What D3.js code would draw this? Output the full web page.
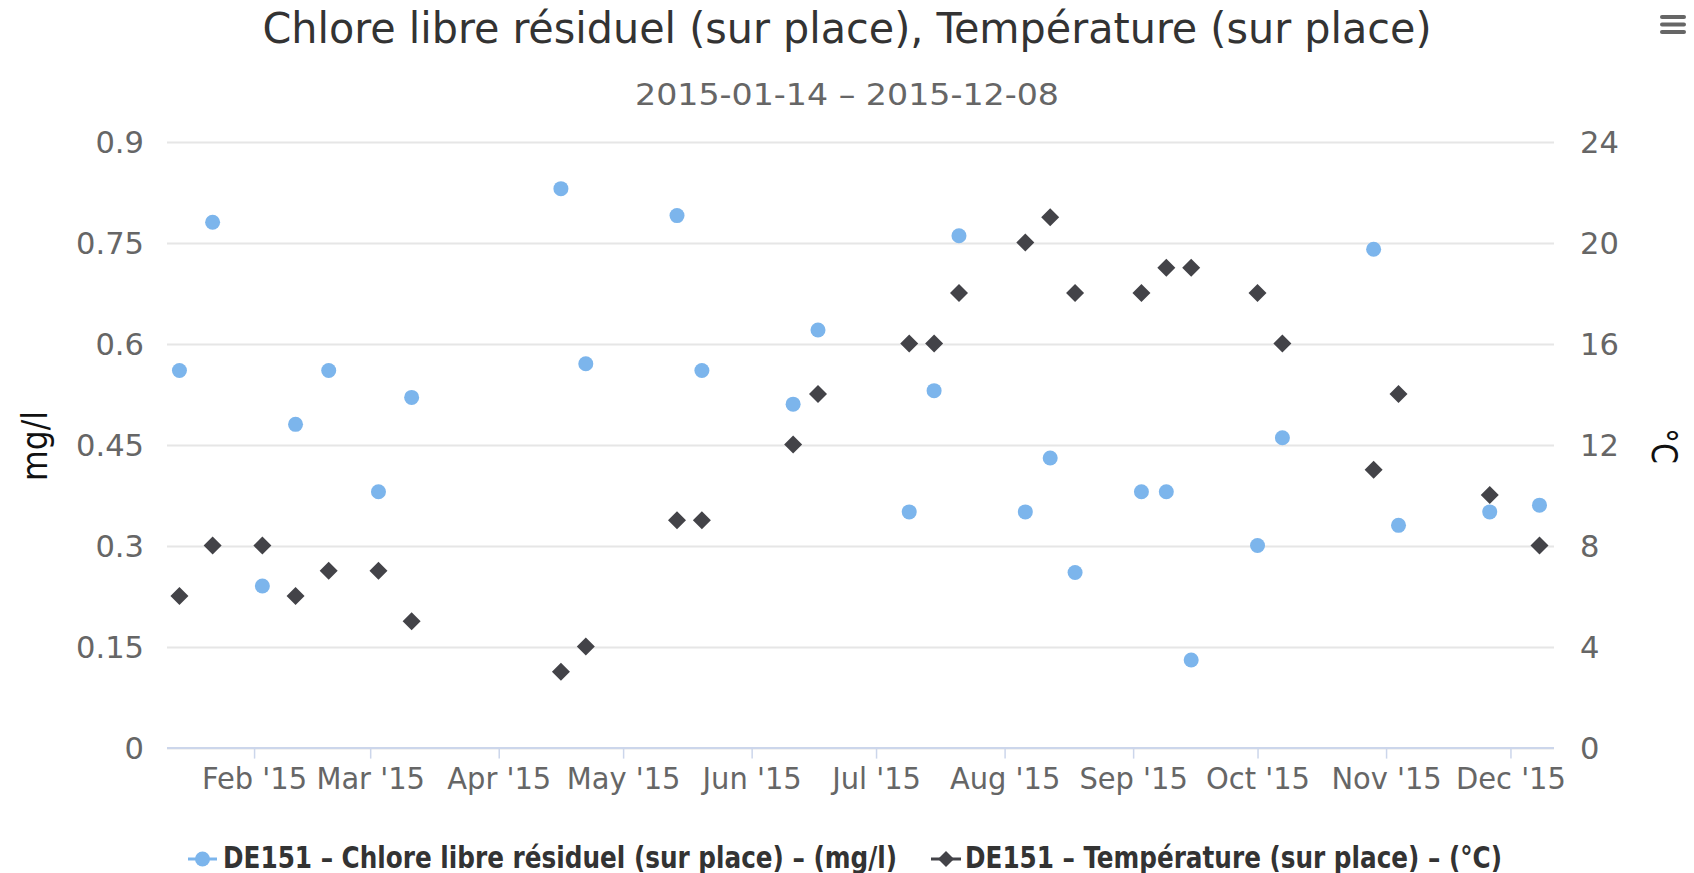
<!DOCTYPE html>
<html><head><meta charset="utf-8">
<script src="https://cdn.jsdelivr.net/npm/d3@7"></script>
<style>body{margin:0;background:#fff;overflow:hidden} svg{display:block}</style>
</head><body>
<svg id="c" width="1694" height="873"></svg>
<script>
// ---- data ----
const dates = ["2015-01-14","2015-01-22","2015-02-03","2015-02-11","2015-02-19","2015-03-03","2015-03-11",
  "2015-04-16","2015-04-22","2015-05-14","2015-05-20","2015-06-11","2015-06-17","2015-07-09","2015-07-15",
  "2015-07-21","2015-08-06","2015-08-12","2015-08-18","2015-09-03","2015-09-09","2015-09-15","2015-10-01",
  "2015-10-07","2015-10-29","2015-11-04","2015-11-26","2015-12-08"];
const chlore = [0.56,0.78,0.24,0.48,0.56,0.38,0.52,0.83,0.57,0.79,0.56,0.51,0.62,0.35,0.53,0.76,0.35,0.43,0.26,
  0.38,0.38,0.13,0.30,0.46,0.74,0.33,0.35,0.36];
const temperature = [6,8,8,6,7,7,5,3,4,9,9,12,14,16,16,18,20,21,18,18,19,19,18,16,11,14,10,8];
const leftTicks = [0,0.15,0.3,0.45,0.6,0.75,0.9];
const leftTickLabels = ["0","0.15","0.3","0.45","0.6","0.75","0.9"];
const rightTicks = [0,4,8,12,16,20,24];
const monthTicks = ["2015-02-01","2015-03-01","2015-04-01","2015-05-01","2015-06-01","2015-07-01",
  "2015-08-01","2015-09-01","2015-10-01","2015-11-01","2015-12-01"];
const monthLabels = ["Feb '15","Mar '15","Apr '15","May '15","Jun '15","Jul '15","Aug '15","Sep '15","Oct '15","Nov '15","Dec '15"];
const xDomain = ["2015-01-11T00:00","2015-12-11T12:00"];
const titleText = "Chlore libre résiduel (sur place), Température (sur place)";
const subtitleText = "2015-01-14 – 2015-12-08";
const seriesNames = ["DE151 – Chlore libre résiduel (sur place) – (mg/l)","DE151 – Température (sur place) – (°C)"];
const leftAxisTitle = "mg/l", rightAxisTitle = "°C";

// ---- layout ----
const FONT = '"Liberation Sans Narrow","DejaVu Sans Condensed","DejaVu Sans",sans-serif';
const L = 167, R = 1554, T = 141.5, B = 747.6;
const parse = d3.timeParse("%Y-%m-%d"), parseT = d3.timeParse("%Y-%m-%dT%H:%M");
const svg = d3.select("#c").style("font-family", FONT).style("font-stretch","condensed");

const x = d3.scaleTime().domain(xDomain.map(parseT)).range([L, R]);
const yL = d3.scaleLinear().domain([0, 0.9]).range([B, T]);
const yR = d3.scaleLinear().domain([0, 24]).range([B, T]);

function fit(sel, w) { sel.attr("textLength", w).attr("lengthAdjust", "spacingAndGlyphs"); }
function squeeze(sel, k) { sel.each(function(){ const n=this.getComputedTextLength(); d3.select(this).attr("textLength", n*k).attr("lengthAdjust","spacingAndGlyphs"); }); }

// gridlines
svg.append("g").selectAll("line").data(leftTicks).join("line")
  .attr("x1", L).attr("x2", R).attr("y1", d => Math.round(yL(d)) + 0.5).attr("y2", d => Math.round(yL(d)) + 0.5)
  .attr("stroke", "#e6e6e6").attr("stroke-width", 2);

// x axis
const xAxis = d3.axisBottom(x).tickValues(monthTicks.map(parse)).tickSize(11)
  .tickFormat((d, i) => monthLabels[i]);
const gx = svg.append("g").attr("transform", `translate(0,${B})`).call(xAxis);
gx.select(".domain").attr("stroke", "#ccd6eb").attr("stroke-width", 2).attr("d", `M${L},0.5H${R}`);
gx.selectAll(".tick line").attr("stroke", "#ccd6eb").attr("stroke-width", 1.5);
gx.selectAll(".tick text").attr("fill", "#666").attr("font-size", 31).attr("dy", 0).attr("y", 41)
  .style("font-family", FONT);

// left axis
const gyl = svg.append("g").attr("transform", `translate(${L},0)`)
  .call(d3.axisLeft(yL).tickValues(leftTicks).tickSize(0).tickPadding(23).tickFormat((d,i)=>leftTickLabels[i]));
gyl.select(".domain").remove();
gyl.selectAll(".tick text").attr("fill", "#666").attr("font-size", 31).attr("dy", "0.36em").style("font-family", FONT);

// right axis
const gyr = svg.append("g").attr("transform", `translate(${R},0)`)
  .call(d3.axisRight(yR).tickValues(rightTicks).tickSize(0).tickPadding(26));
gyr.select(".domain").remove();
gyr.selectAll(".tick text").attr("fill", "#666").attr("font-size", 31).attr("dy", "0.36em").style("font-family", FONT);

// axis titles
const at1 = svg.append("text").attr("transform", "translate(47,446) rotate(-90)").attr("text-anchor", "middle")
  .attr("font-size", 35).attr("fill", "#111").text(leftAxisTitle);
fit(at1, 70);
const at2 = svg.append("text").attr("transform", "translate(1652,446) rotate(90)").attr("text-anchor", "middle")
  .attr("font-size", 35).attr("fill", "#111").text(rightAxisTitle);
fit(at2, 36);

// title & subtitle
const title = svg.append("text").attr("x", 847).attr("y", 43).attr("text-anchor", "middle")
  .attr("font-size", 42).attr("fill", "#333").text(titleText);
fit(title, 1169);
const sub = svg.append("text").attr("x", 847).attr("y", 105).attr("text-anchor", "middle")
  .attr("font-size", 30).attr("fill", "#666").text(subtitleText);
fit(sub, 424);

// hamburger menu
svg.append("g").selectAll("line").data([17, 24.5, 32]).join("line")
  .attr("x1", 1662).attr("x2", 1684).attr("y1", d => d).attr("y2", d => d)
  .attr("stroke", "#666").attr("stroke-width", 4).attr("stroke-linecap", "round");

// series
const diamond = (cx, cy, r) => `M${cx},${cy - r}L${cx + r},${cy}L${cx},${cy + r}L${cx - r},${cy}Z`;
svg.append("g").selectAll("circle").data(dates).join("circle")
  .attr("cx", (d) => x(parse(d))).attr("cy", (d, i) => yL(chlore[i])).attr("r", 7.5).attr("fill", "#7cb5ec");
svg.append("g").selectAll("path").data(dates).join("path")
  .attr("d", (d, i) => diamond(x(parse(d)), yR(temperature[i]), 9)).attr("fill", "#434348");

// legend
const lg = svg.append("g");
const legendY = 859;
lg.append("line").attr("x1", 188).attr("x2", 217).attr("y1", legendY).attr("y2", legendY).attr("stroke", "#7cb5ec").attr("stroke-width", 3);
lg.append("circle").attr("cx", 202.5).attr("cy", legendY).attr("r", 7.5).attr("fill", "#7cb5ec");
const t1 = lg.append("text").attr("x", 223).attr("y", 867.5).attr("font-size", 30).attr("font-weight", "bold").attr("fill", "#333").text(seriesNames[0]);
fit(t1, 674);
lg.append("line").attr("x1", 931).attr("x2", 961).attr("y1", legendY).attr("y2", legendY).attr("stroke", "#434348").attr("stroke-width", 3);
lg.append("path").attr("d", diamond(946, legendY, 8)).attr("fill", "#434348");
const t2 = lg.append("text").attr("x", 965).attr("y", 867.5).attr("font-size", 30).attr("font-weight", "bold").attr("fill", "#333").text(seriesNames[1]);
fit(t2, 537);

// squeeze tick labels to match the narrow reference font
const feb = gx.select(".tick text").node().getComputedTextLength();
squeeze(gx.selectAll(".tick text"), 105 / feb);
const l075 = gyl.selectAll(".tick text").filter((d) => d === 0.75).node().getComputedTextLength();
squeeze(gyl.selectAll(".tick text"), 68 / l075);
squeeze(gyr.selectAll(".tick text"), 68 / l075);
</script>
</body></html>
